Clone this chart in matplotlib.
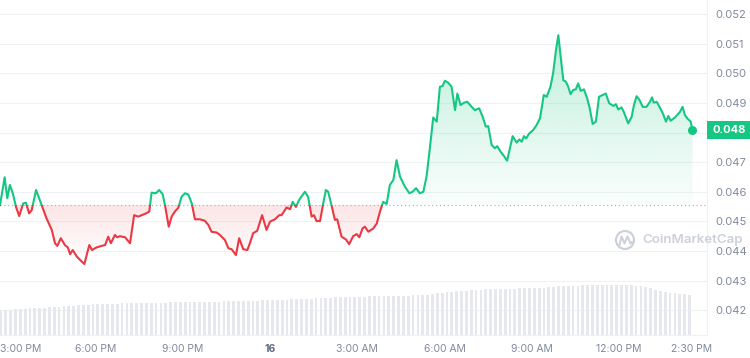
import numpy as np
import matplotlib
matplotlib.use("Agg")
import matplotlib.pyplot as plt
import matplotlib.transforms as mtransforms
from matplotlib.patches import PathPatch, Rectangle, Ellipse
from matplotlib.path import Path
from matplotlib.lines import Line2D

plt.rcParams['font.family'] = ['Inter', 'DejaVu Sans']

# price history, hours since 00:00 on the 15th
hours = [
    14.72, 14.88, 14.97, 15.06, 15.16, 15.27, 15.38, 15.52, 15.61, 15.72, 15.81, 15.96,
    16.15, 16.32, 16.50, 16.61, 16.69, 16.81, 16.95, 17.05, 17.13, 17.22, 17.36, 17.53,
    17.62, 17.70, 17.79, 17.88, 18.04, 18.21, 18.33, 18.44, 18.53, 18.67, 18.75, 18.84,
    19.02, 19.19, 19.33, 19.47, 19.59, 19.74, 19.85, 19.93, 20.08, 20.19, 20.31, 20.39,
    20.52, 20.62, 20.73, 20.85, 20.96, 21.08, 21.19, 21.31, 21.42, 21.59, 21.76, 21.88,
    21.99, 22.17, 22.28, 22.45, 22.57, 22.68, 22.83, 22.94, 23.08, 23.22, 23.31, 23.42,
    23.56, 23.73, 23.88, 24.00, 24.17, 24.32, 24.40, 24.57, 24.69, 24.78, 24.89, 25.01,
    25.20, 25.31, 25.43, 25.51, 25.60, 25.72, 25.83, 25.92, 26.00, 26.12, 26.23, 26.31,
    26.46, 26.61, 26.72, 26.86, 26.98, 27.07, 27.18, 27.26, 27.38, 27.55, 27.67, 27.78,
    27.89, 28.01, 28.12, 28.24, 28.35, 28.47, 28.64, 28.79, 28.90, 29.02, 29.15, 29.27,
    29.38, 29.50, 29.61, 29.73, 29.84, 29.93, 30.01, 30.13, 30.24, 30.36, 30.44, 30.55,
    30.67, 30.78, 30.93, 31.04, 31.19, 31.31, 31.42, 31.50, 31.62, 31.73, 31.81, 31.93,
    32.04, 32.15, 32.22, 32.34, 32.48, 32.57, 32.65, 32.73, 32.80, 32.91, 33.05, 33.16,
    33.28, 33.41, 33.51, 33.64, 33.73, 33.83, 33.91, 33.99, 34.08, 34.17, 34.25, 34.33,
    34.42, 34.51, 34.59, 34.68, 34.79, 34.90, 34.99, 35.09, 35.20, 35.31, 35.54, 35.66,
    35.80, 35.89, 35.97, 36.08, 36.16, 36.31, 36.43, 36.51, 36.60, 36.69, 36.81, 36.94,
    37.06, 37.13, 37.19, 37.29, 37.40, 37.51, 37.61, 37.69, 37.77, 37.92, 38.09, 38.18,
    38.26, 38.37, 38.46, 38.52,
]
price = [
    45.55, 46.49, 45.78, 46.23, 45.95, 45.49, 45.18, 45.61, 45.63, 45.27, 45.38, 46.06,
    45.55, 45.10, 44.71, 44.26, 44.17, 44.43, 44.20, 44.12, 43.89, 44.03, 43.81, 43.64,
    43.56, 43.86, 44.20, 44.03, 44.12, 44.17, 44.20, 44.48, 44.26, 44.54, 44.46, 44.50,
    44.46, 44.26, 45.21, 45.16, 45.21, 45.27, 45.33, 45.97, 45.95, 46.06, 45.92, 45.55,
    44.82, 45.16, 45.33, 45.46, 45.83, 45.95, 45.91, 45.61, 45.07, 45.07, 45.02, 44.88,
    44.65, 44.62, 44.54, 44.37, 44.09, 44.06, 43.86, 44.43, 44.06, 44.03, 44.26, 44.60,
    44.68, 45.21, 44.71, 44.99, 45.07, 45.21, 45.21, 45.47, 45.41, 45.66, 45.49, 45.74,
    46.00, 45.83, 45.16, 45.21, 45.01, 45.01, 45.61, 46.06, 46.00, 45.52, 45.05, 45.07,
    44.48, 44.39, 44.23, 44.50, 44.57, 44.46, 44.76, 44.82, 44.65, 44.76, 44.93, 45.33,
    45.66, 45.59, 46.23, 46.40, 47.07, 46.51, 46.17, 45.95, 46.00, 46.12, 45.95, 46.00,
    46.51, 47.52, 48.51, 48.37, 49.55, 49.57, 49.75, 49.68, 49.55, 48.76, 49.32, 48.93,
    49.01, 49.04, 48.87, 48.76, 48.82, 48.53, 48.20, 48.22, 47.58, 47.47, 47.54, 47.35,
    47.21, 47.05, 47.35, 47.88, 47.66, 47.77, 47.69, 47.88, 47.80, 47.97, 48.09, 48.25,
    48.48, 49.27, 49.21, 49.55, 50.00, 50.79, 51.29, 50.56, 49.77, 49.72, 49.55, 49.30,
    49.44, 49.46, 49.66, 49.41, 49.46, 49.16, 48.82, 48.29, 48.37, 49.21, 49.32, 48.99,
    48.90, 48.96, 48.78, 48.85, 48.70, 48.31, 48.53, 48.93, 49.23, 49.12, 48.87, 48.87,
    49.04, 49.19, 49.01, 49.04, 48.85, 48.63, 48.37, 48.56, 48.40, 48.51, 48.70, 48.87,
    48.59, 48.45, 48.37, 48.09,
]
price = np.array(price) / 1000
hours = np.array(hours)

# 24h volume (millions), one bar every 10 minutes
volume = [
    25.0, 25.0, 25.5, 26.0, 26.0, 26.5, 27.0, 27.0, 27.5, 27.5,
    28.0, 28.0, 28.5, 29.0, 29.0, 29.5, 30.0, 30.0, 30.5, 31.0,
    31.0, 31.0, 31.5, 31.5, 31.5, 32.0, 32.0, 32.0, 32.0, 32.0,
    32.0, 32.5, 32.5, 32.5, 32.5, 33.0, 33.0, 33.0, 33.0, 33.0,
    33.0, 33.0, 33.5, 33.5, 33.5, 33.5, 34.0, 34.0, 34.0, 34.0,
    34.0, 34.5, 34.5, 34.5, 35.0, 35.0, 35.0, 35.5, 35.5, 35.5,
    36.0, 36.0, 36.0, 36.5, 36.5, 37.0, 37.0, 37.5, 37.5, 38.0,
    38.0, 38.0, 38.5, 38.5, 38.5, 38.5, 39.0, 39.0, 39.0, 39.0,
    39.0, 39.5, 39.5, 39.5, 39.5, 40.0, 40.0, 40.0, 40.5, 41.0,
    42.0, 42.5, 43.0, 43.5, 44.0, 44.5, 44.5, 45.0, 45.5, 45.5,
    46.0, 46.0, 46.0, 46.5, 46.5, 46.5, 46.5, 47.0, 47.0, 47.0,
    47.0, 47.5, 47.5, 48.0, 48.5, 49.0, 49.0, 49.5, 49.5, 49.5,
    50.0, 50.0, 50.0, 50.0, 50.0, 50.0, 50.0, 50.0, 50.0, 50.0,
    50.0, 49.5, 49.0, 48.0, 47.0, 45.5, 44.5, 43.5, 42.5, 42.0,
    41.5, 41.0, 40.5,
]
vol_hours = 14.75 + np.arange(len(volume)) / 6

price_ticks = [0.042, 0.043, 0.044, 0.045, 0.046, 0.047, 0.048, 0.049, 0.050, 0.051, 0.052]
time_ticks = [15, 18, 21, 24, 27, 30, 33, 36, 38.5]
time_labels = ['3:00 PM', '6:00 PM', '9:00 PM', '16', '3:00 AM', '6:00 AM', '9:00 AM', '12:00 PM', '2:30 PM']

GREEN = '#16c784'
RED = '#ea3943'
GRAY = '#808a9d'

base = price[0]
x0, x1 = 14.72, 39.02
y0, y1 = 0.04116, 0.05248

fig = plt.figure(figsize=(7.5, 3.58), dpi=100)
fig.patch.set_facecolor('white')
ax = fig.add_axes([0, 23 / 358, 707 / 750, 335 / 358])


def gradient_fill(ax, mask, color, top, bottom, a_top, a_bottom):
    coll = ax.fill_between(hours, price, base, where=mask, interpolate=True,
                           facecolor='none', edgecolor='none')
    path = Path.make_compound_path(*coll.get_paths())
    patch = PathPatch(path, transform=ax.transData, facecolor='none', edgecolor='none')
    ax.add_patch(patch)
    rgb = matplotlib.colors.to_rgb(color)
    grad = np.zeros((100, 1, 4))
    grad[:, 0, :3] = rgb
    grad[:, 0, 3] = np.linspace(a_bottom, a_top, 100)
    im = ax.imshow(grad, extent=[hours[0], hours[-1], bottom, top], aspect='auto',
                   origin='lower', zorder=1, interpolation='bilinear')
    im.set_clip_path(patch)


gradient_fill(ax, price >= base, GREEN, price.max(), base, 0.28, 0.02)
gradient_fill(ax, price <= base, RED, base, price.min(), 0.13, 0.0)

# line, green above the opening price and red below
above = Rectangle((x0, base), x1 - x0, 1, transform=ax.transData)
below = Rectangle((x0, base - 1), x1 - x0, 1, transform=ax.transData)
lg, = ax.plot(hours, price, color=GREEN, lw=1.5, zorder=4, solid_joinstyle='round')
lr, = ax.plot(hours, price, color=RED, lw=1.5, zorder=4, solid_joinstyle='round')
lg.set_clip_path(above)
lr.set_clip_path(below)
ax.plot(hours[-1], price[-1], 'o', color=GREEN, ms=5.5, zorder=5)

ax.axhline(base, color='#a6adba', lw=0.8, ls=(0, (1, 2.5)), zorder=3)

ax.set_xlim(x0, x1)
ax.set_ylim(y0, y1)
ax.set_yticks(price_ticks)
# the current-price tag stands in for the tick label it covers
ax.set_yticklabels(['' if abs(v - round(price[-1], 3)) < 1e-9 else f'{v:.3f}' for v in price_ticks])
ax.yaxis.tick_right()
ax.set_xticks(time_ticks)
ax.set_xticklabels(time_labels)
ax.grid(axis='y', color='#eff2f5', lw=0.8)
ax.grid(axis='x', visible=False)
ax.set_axisbelow(True)
ax.tick_params(axis='y', length=0, pad=5.8, labelsize=8, labelcolor=GRAY)
ax.tick_params(axis='x', length=0, pad=6.5, labelsize=7.5, labelcolor=GRAY)
for s in ['top', 'left']:
    ax.spines[s].set_visible(False)
for s in ['right', 'bottom']:
    ax.spines[s].set_color('#eff2f5')
    ax.spines[s].set_linewidth(0.8)

xl = ax.get_xticklabels()
xl[0].set_horizontalalignment('left')
xl[0].set_transform(xl[0].get_transform() + mtransforms.ScaledTranslation(-6 / 72, 0, fig.dpi_scale_trans))
xl[3].set_fontweight('bold')
xl[3].set_color('#5f6b80')

# volume strip
ax2 = fig.add_axes(ax.get_position(), sharex=ax)
ax2.bar(vol_hours, volume, width=0.095, color='#e6e8ee', linewidth=0)
ax2.set_ylim(0, max(volume) * 6.7)
ax2.axis('off')
ax2.set_xlim(x0, x1)

# current price tag
tag_t = mtransforms.blended_transform_factory(ax.transAxes, ax.transData)
ax.add_patch(Rectangle((1.0, price[-1] - 0.00031), 0.062, 0.00062, transform=tag_t,
                       facecolor=GREEN, edgecolor='none', clip_on=False, zorder=6))
ax.text(1.031, price[-1], f'{price[-1]:.3f}', transform=tag_t, ha='center', va='center',
        color='white', fontsize=8, fontweight='bold', zorder=7, clip_on=False)

# watermark
wm = '#cdd1d9'
fig.add_artist(Ellipse((625 / 750, 1 - 240 / 358), 18 / 750, 18 / 358, transform=fig.transFigure,
                       facecolor='none', edgecolor=wm, lw=1.6))
fig.add_artist(Line2D([619.5 / 750, 621.5 / 750, 624.5 / 750, 627.5 / 750, 630.5 / 750, 632 / 750],
                      [1 - 245 / 358, 1 - 236.5 / 358, 1 - 243.5 / 358, 1 - 236.5 / 358,
                       1 - 243.5 / 358, 1 - 242 / 358],
                      transform=fig.transFigure, color=wm, lw=1.5, solid_joinstyle='round',
                      solid_capstyle='round'))
fig.text(642 / 750, 1 - 240 / 358, 'CoinMarketCap', ha='left', va='center',
         color=wm, fontsize=9.6, fontweight='semibold')

fig.savefig('out.png', dpi=100, facecolor='white')
